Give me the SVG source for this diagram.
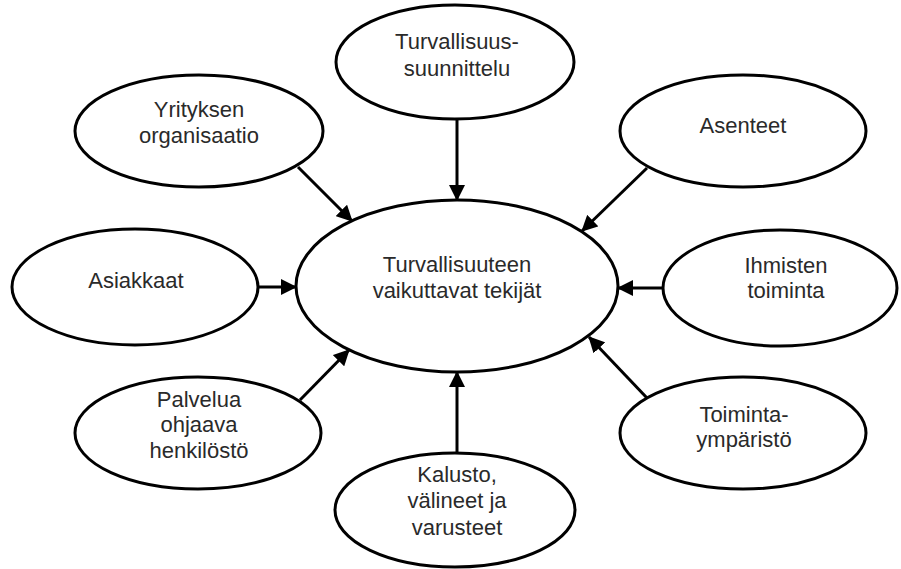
<svg xmlns="http://www.w3.org/2000/svg" width="901" height="569" viewBox="0 0 901 569">
<style>
.n ellipse{fill:#fff;stroke:#000;stroke-width:3}
text{font-family:"Liberation Sans",Arial,sans-serif;font-size:22px;fill:#2a2a2a;text-anchor:middle}
.c line{stroke:#000;stroke-width:3;marker-end:url(#ah)}
</style>
<defs>
<marker id="ah" markerUnits="userSpaceOnUse" markerWidth="16" markerHeight="16" refX="15" refY="8" orient="auto">
<path d="M0,0 L16,8 L0,16 z" fill="#000"/>
</marker>
</defs>
<rect width="901" height="569" fill="#fff"/>
<g id="connectors" class="c">
<line x1="457" y1="118" x2="457" y2="200"/>
<line x1="298" y1="167" x2="352" y2="221"/>
<line x1="647" y1="168" x2="582" y2="231"/>
<line x1="258" y1="287" x2="296" y2="287"/>
<line x1="663" y1="288" x2="618" y2="288"/>
<line x1="300" y1="400" x2="349" y2="350"/>
<line x1="647" y1="398" x2="589" y2="337"/>
<line x1="457" y1="453" x2="457" y2="372"/>
</g>
<g id="center" class="n">
<ellipse cx="457" cy="286" rx="161" ry="86"/>
<text x="457" y="272">Turvallisuuteen</text>
<text x="457" y="298">vaikuttavat tekijät</text>
</g>
<g id="turvallisuussuunnittelu" class="n">
<ellipse cx="455" cy="62" rx="119" ry="57"/>
<text x="457" y="49">Turvallisuus-</text>
<text x="457" y="76">suunnittelu</text>
</g>
<g id="yrityksen" class="n">
<ellipse cx="199" cy="131" rx="124" ry="56"/>
<text x="199" y="117">Yrityksen</text>
<text x="199" y="143">organisaatio</text>
</g>
<g id="asenteet" class="n">
<ellipse cx="743" cy="131" rx="123" ry="56"/>
<text x="743" y="133">Asenteet</text>
</g>
<g id="asiakkaat" class="n">
<ellipse cx="135" cy="287" rx="123" ry="58"/>
<text x="136" y="288">Asiakkaat</text>
</g>
<g id="ihmisten" class="n">
<ellipse cx="780" cy="288" rx="117" ry="58"/>
<text x="786" y="273">Ihmisten</text>
<text x="786" y="298">toiminta</text>
</g>
<g id="palvelua" class="n">
<ellipse cx="198" cy="433" rx="123" ry="56"/>
<text x="199" y="407">Palvelua</text>
<text x="199" y="432">ohjaava</text>
<text x="199" y="458">henkilöstö</text>
</g>
<g id="toimintaymparisto" class="n">
<ellipse cx="743" cy="433" rx="123" ry="56"/>
<text x="744" y="422">Toiminta-</text>
<text x="744" y="447">ympäristö</text>
</g>
<g id="kalusto" class="n">
<ellipse cx="455" cy="510" rx="120" ry="57"/>
<text x="457" y="482">Kalusto,</text>
<text x="457" y="508">välineet ja</text>
<text x="457" y="535">varusteet</text>
</g>
</svg>
